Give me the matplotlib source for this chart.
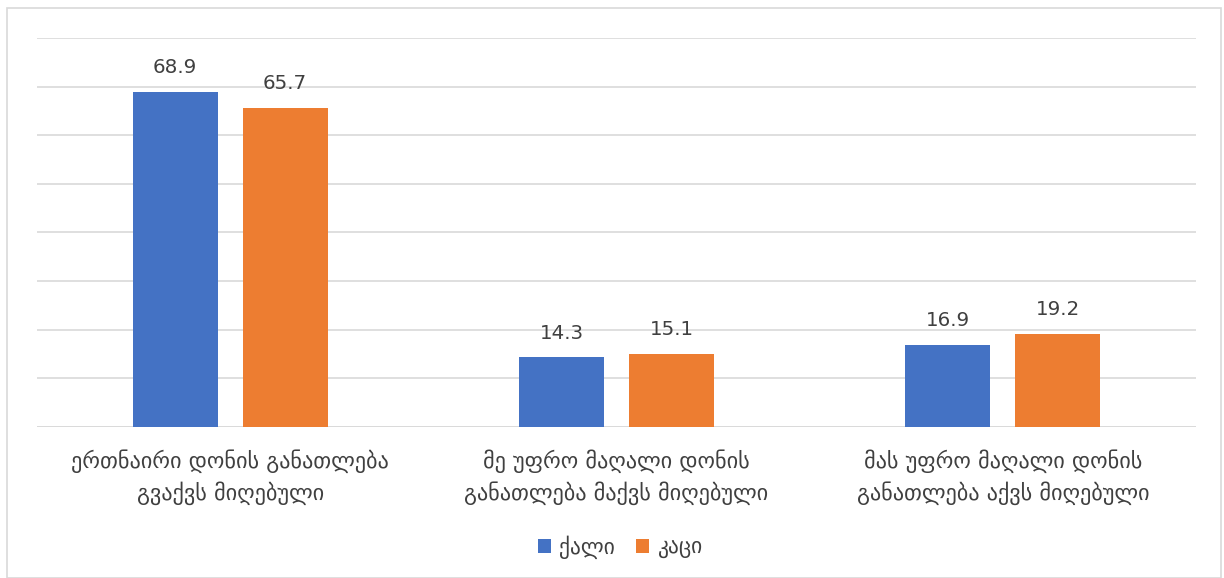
import matplotlib
matplotlib.use("Agg")
import matplotlib.pyplot as plt
from matplotlib.patches import Rectangle
import numpy as np

categories = ["ერთნაირი დონის განათლება\nგვაქვს მიღებული",
              "მე უფრო მაღალი დონის\nგანათლება მაქვს მიღებული",
              "მას უფრო მაღალი დონის\nგანათლება აქვს მიღებული"]
series_names = ["ქალი", "კაცი"]
women = [68.9, 14.3, 16.9]
men = [65.7, 15.1, 19.2]
colors = ["#4472C4", "#ED7D31"]

plt.rcParams['font.family'] = ['DejaVu Sans']
fig = plt.figure(figsize=(12.24, 5.78), dpi=100)
ax = fig.add_axes([37/1224, 1-427/578, (1196-37)/1224, (427-38)/578])

x = np.arange(len(categories))
w = 0.22
off = 0.1425
text_col = "#404040"
for vals, c, o, name in [(women, colors[0], -off, series_names[0]), (men, colors[1], off, series_names[1])]:
    bars = ax.bar(x + o, vals, w, color=c, label=name, zorder=3)
    for b, v in zip(bars, vals):
        ax.text(b.get_x() + b.get_width()/2, v + 3.0, f"{v:.1f}", ha='center', va='bottom',
                fontsize=14.3, color=text_col)

ax.set_xlim(-0.5, 2.5)
ax.set_ylim(0, 80)
ax.set_yticks(np.arange(0, 81, 10))
ax.yaxis.grid(True, color="#d9d9d9", linewidth=1.2, zorder=0)
ax.tick_params(axis='y', length=0, labelleft=False)
ax.tick_params(axis='x', length=0, pad=16)
ax.set_xticks(x)
ax.set_xticklabels(categories, fontsize=16, color=text_col, linespacing=1.45)
for s in ax.spines.values():
    s.set_visible(False)
ax.axhline(0, color="#d9d9d9", linewidth=1.2, zorder=1)

leg = fig.legend(loc='center', bbox_to_anchor=(620/1224, 1-547/578), ncol=2, frameon=False,
                 fontsize=15.5, handlelength=0.6, handleheight=0.6, handletextpad=0.35, columnspacing=1.0)
for t in leg.get_texts():
    t.set_color(text_col)

fig.patches.append(Rectangle((7/1224, 0), (1221-7)/1224, 1-8/578, transform=fig.transFigure,
                             fill=False, edgecolor="#d9d9d9", linewidth=1.2))
fig.savefig("out.png", dpi=100)
